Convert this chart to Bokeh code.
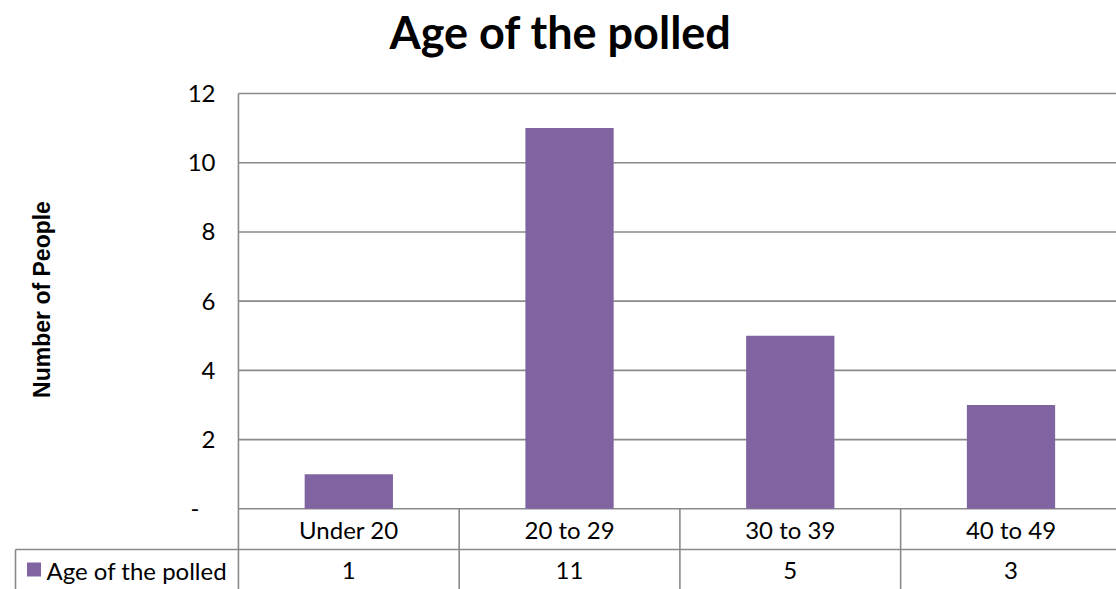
from bokeh.plotting import figure
from bokeh.models import Range1d, ColumnDataSource
from bokeh.core.properties import value
from bokeh.embed import file_html
from bokeh.resources import INLINE

# Survey data
categories = ["Under 20", "20 to 29", "30 to 39", "40 to 49"]
counts = [1, 11, 5, 3]
series_name = "Age of the polled"
y_ticks = [0, 2, 4, 6, 8, 10, 12]
y_tick_labels = ["-", "2", "4", "6", "8", "10", "12"]

BAR_COLOR = "#8064A2"
GRID_COLOR = "#8A8A8A"
FONT = "Lato"
LABEL_SIZE = "24px"

W, H = 1116, 589
# Data-space layout: categories sit at 0..3, one unit per column
x_lo, x_hi = -1.578, 3.478
y_lo, y_hi = -2.332, 14.687
table_row = -1.176          # boundary between category row and value row
legend_left = x_lo + 15 / 220.7

p = figure(width=W, height=H, x_range=Range1d(x_lo, x_hi), y_range=Range1d(y_lo, y_hi),
           output_backend="svg", toolbar_location=None, min_border=0,
           outline_line_color=None, background_fill_color="white")
p.axis.visible = False
p.grid.visible = False

n = len(categories)
xs = list(range(n))

# Horizontal gridlines (including the baseline)
p.segment(x0=[-0.5] * len(y_ticks), x1=[x_hi] * len(y_ticks), y0=y_ticks, y1=y_ticks,
          line_color=GRID_COLOR, line_width=1.6)
# Vertical axis line continues down through the data table
p.segment(x0=[-0.5], x1=[-0.5], y0=[y_lo], y1=[max(y_ticks)], line_color=GRID_COLOR, line_width=1.6)

# Bars
src = ColumnDataSource(dict(x=xs, top=counts, cat=categories))
p.vbar(x="x", top="top", bottom=0, width=0.4, source=src, fill_color=BAR_COLOR, line_color=None)

# Y tick labels (accounting-style dash for zero sits a little further left)
tick_offsets = [-16 if lbl == "-" else 0 for lbl in y_tick_labels]
p.text(x=[-0.604] * len(y_ticks), y=y_ticks, text=y_tick_labels, x_offset=tick_offsets,
       text_align="right", text_baseline="middle", text_font=value(FONT),
       text_font_size=LABEL_SIZE, text_color="black")

# Y axis title
p.text(x=[x_lo + 41 / 220.7], y=[y_hi - 299 / 34.61], text=["Number of People"], angle=1.5708,
       text_align="center", text_baseline="middle", text_font=value("Liberation Sans"),
       text_font_style="bold", text_font_size="23px", text_color="black")

# Chart title
p.text(x=[x_lo + 560 / 220.7], y=[y_hi - 32 / 34.61], text=[series_name], text_align="center",
       text_baseline="middle", text_font=value(FONT), text_font_style="bold",
       text_font_size="45px", text_color="black")

# Data table: column separators and row line
seps = [i + 0.5 for i in range(n - 1)]
p.segment(x0=seps, x1=seps, y0=[0] * len(seps), y1=[y_lo] * len(seps), line_color=GRID_COLOR, line_width=1.6)
p.segment(x0=[legend_left], x1=[x_hi], y0=[table_row], y1=[table_row], line_color=GRID_COLOR, line_width=1.6)
p.segment(x0=[legend_left], x1=[legend_left], y0=[table_row], y1=[y_lo], line_color=GRID_COLOR, line_width=1.6)

# Category labels and values in the table
p.text(x="x", y=table_row / 2, text="cat", source=src, text_align="center", text_baseline="middle",
       text_font=value(FONT), text_font_size=LABEL_SIZE, text_color="black")
p.text(x=xs, y=[(table_row + y_lo) / 2 - 0.03] * n, text=[str(c) for c in counts], text_align="center",
       text_baseline="middle", text_font=value(FONT), text_font_size=LABEL_SIZE, text_color="black")

# Legend key inside the table
p.rect(x=[x_lo + 33.5 / 220.7], y=[(table_row + y_lo) / 2], width=14, height=14,
       width_units="screen", height_units="screen", fill_color=BAR_COLOR, line_color=None)
p.text(x=[x_lo + 46 / 220.7], y=[(table_row + y_lo) / 2 - 0.03], text=[series_name], text_align="left",
       text_baseline="middle", text_font=value(FONT), text_font_size=LABEL_SIZE, text_color="black")

open("out.html", "w").write(file_html(p, INLINE))
